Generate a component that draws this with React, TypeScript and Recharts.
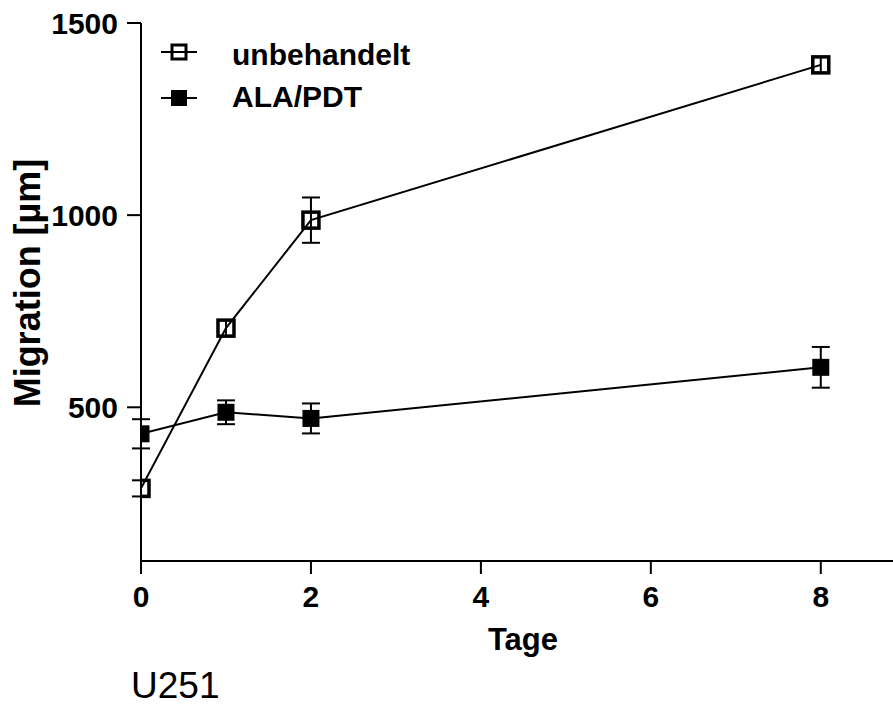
import React from "react";
import {
  LineChart,
  Line,
  XAxis,
  YAxis,
  ErrorBar,
  Legend,
  Label,
  Customized,
} from "recharts";

const FONT = "'Liberation Sans', Arial, Helvetica, sans-serif";

// Tage nach Behandlung
const days = [0, 1, 2, 8];
// Migration [µm], Mittelwert und Fehler
const unbehandelt = [289, 706, 987, 1391];
const unbehandeltErr = [21, 21, 59, 21];
const alaPdt = [431, 487, 471, 604];
const alaPdtErr = [38, 31, 39, 53];

const xTicks = [0, 2, 4, 6, 8];
const yTicks = [500, 1000, 1500];

const data = days.map((d, i) => ({
  day: d,
  unbehandelt: unbehandelt[i],
  unbehandeltErr: unbehandeltErr[i],
  alaPdt: alaPdt[i],
  alaPdtErr: alaPdtErr[i],
}));

const OpenSquare = (props: any) => {
  const { cx, cy, index } = props;
  return (
    <rect
      key={`open-${index}`}
      x={cx - 8}
      y={cy - 8}
      width={16}
      height={16}
      fill="none"
      stroke="#000"
      strokeWidth={3.5}
    />
  );
};

const FilledSquare = (props: any) => {
  const { cx, cy, index } = props;
  return (
    <rect
      key={`fill-${index}`}
      x={cx - 8.5}
      y={cy - 8.5}
      width={17}
      height={17}
      fill="#000"
    />
  );
};

const LegendBox = () => (
  <svg width={300} height={90}>
    <line x1={6} y1={22} x2={42} y2={22} stroke="#000" strokeWidth={2} />
    <rect x={17} y={15} width={14} height={14} fill="none" stroke="#000" strokeWidth={3} />
    <text x={77} y={35} fontFamily={FONT} fontWeight="bold" fontSize={30} fill="#000">
      unbehandelt
    </text>
    <line x1={6} y1={68} x2={42} y2={68} stroke="#000" strokeWidth={2} />
    <rect x={16} y={60} width={16} height={16} fill="#000" />
    <text x={77} y={77} fontFamily={FONT} fontWeight="bold" fontSize={30} fill="#000">
      ALA/PDT
    </text>
  </svg>
);

const tickStyle = { fill: "#000", fontSize: 30, fontWeight: "bold", fontFamily: FONT };

export default function App() {
  return (
    <div style={{ position: "absolute", left: 0, top: 0, width: 893, height: 706, background: "#fff" }}>
      <LineChart
        width={893}
        height={706}
        data={data}
        margin={{ top: 23, right: 0, bottom: 75, left: 0 }}
      >
        <XAxis
          dataKey="day"
          type="number"
          domain={[0, 8.85]}
          ticks={xTicks}
          allowDataOverflow
          height={70}
          stroke="#000"
          strokeWidth={2}
          tickSize={13}
          tickMargin={12}
          tick={tickStyle}
          tickLine={{ stroke: "#000", strokeWidth: 2 }}
        >
          <Label
            content={() => (
              <text x={523} y={650} textAnchor="middle" fontFamily={FONT} fontWeight="bold" fontSize={31} fill="#000">
                Tage
              </text>
            )}
          />
        </XAxis>
        <YAxis
          type="number"
          domain={[100, 1500]}
          ticks={yTicks}
          width={141}
          stroke="#000"
          strokeWidth={2}
          tickSize={14}
          tickMargin={9}
          tick={tickStyle}
          tickLine={{ stroke: "#000", strokeWidth: 2 }}
        >
          <Label
            content={() => (
              <text
                x={40}
                y={283}
                transform="rotate(-90 40 283)"
                textAnchor="middle"
                fontFamily={FONT}
                fontWeight="bold"
                fontSize={36}
                fill="#000"
              >
                Migration [µm]
              </text>
            )}
          />
        </YAxis>
        <Legend
          layout="vertical"
          align="center"
          verticalAlign="middle"
          wrapperStyle={{ left: 155, top: 30, width: 300 }}
          content={() => <LegendBox />}
        />
        <Line
          dataKey="alaPdt"
          stroke="#000"
          strokeWidth={2}
          dot={FilledSquare}
          activeDot={false}
          isAnimationActive={false}
        >
          <ErrorBar dataKey="alaPdtErr" width={9} stroke="#000" strokeWidth={2} direction="y" />
        </Line>
        <Line
          dataKey="unbehandelt"
          stroke="#000"
          strokeWidth={2}
          dot={OpenSquare}
          activeDot={false}
          isAnimationActive={false}
        >
          <ErrorBar dataKey="unbehandeltErr" width={9} stroke="#000" strokeWidth={2} direction="y" />
        </Line>
        <Customized
          component={() => (
            <text x={131} y={698} fontFamily={FONT} fontSize={37} fill="#000">
              U251
            </text>
          )}
        />
      </LineChart>
    </div>
  );
}
